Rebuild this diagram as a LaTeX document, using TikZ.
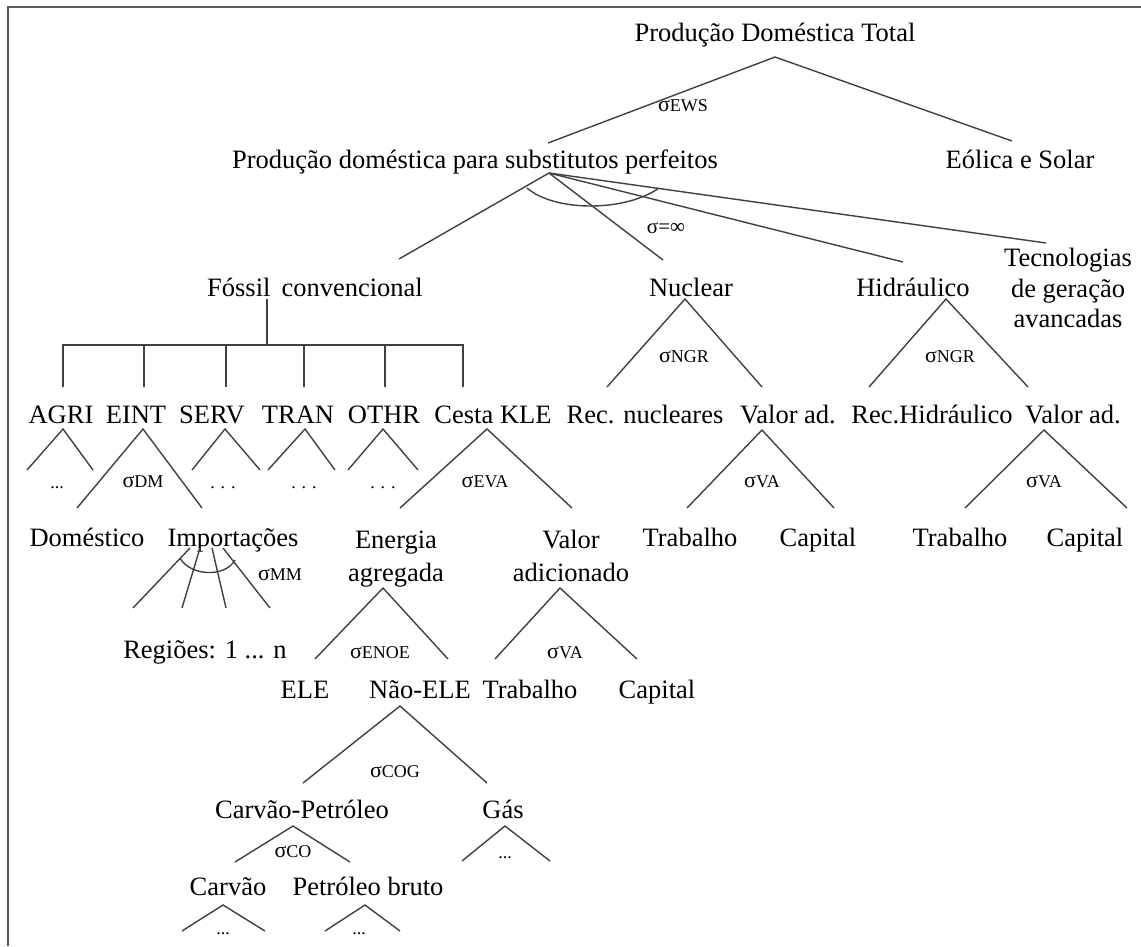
\documentclass[tikz,border=0pt]{standalone}
\usepackage{fontspec}
\setmainfont{Liberation Serif}

% elasticity label: sigma followed by the nest code in smaller capitals
\newcommand\elas[1]{{\fontsize{22}{22}\selectfont σ}{\fontsize{18}{18}\selectfont #1}}

% apex and two leg ends of a nesting fork, with the two legs drawn
\newcommand\nestfork[4]{%
  \coordinate (#1-s) at (#2);
  \coordinate (#1-l) at (#3);
  \coordinate (#1-r) at (#4);
  \draw[link] (#1-l) -- (#1-s) -- (#1-r);}

\begin{document}
\begin{tikzpicture}[x=1pt,y=-1pt,
  base/.style={font=\fontsize{26.5}{33}\selectfont, inner sep=0pt, align=center},
  txt/.style={base, text height=23pt, text depth=6pt},
  multi/.style={base},
  lbl/.style={inner sep=0pt},
  more/.style={font=\fontsize{18}{18}\selectfont, inner sep=0pt, anchor=base},
  link/.style={draw=black!75, line width=1.4pt},
  frame/.style={draw=black!65, line width=2.6pt}]

\useasboundingbox (0,0) rectangle (1141,946);
\draw[frame] (8,946) -- (8,7) -- (1141,7);

% ---------- top level ----------
\node[txt] (tot) at (775,33) {Produção Doméstica Total};
\node[txt] (perf) at (475,160) {Produção doméstica para substitutos perfeitos};
\node[txt] (eol) at (1020,160) {Eólica e Solar};
\nestfork{tot}{775,57}{548,143}{1012,141}
\node[lbl] (s-ews) at (683,106) {\elas{EWS}};

% ---------- perfect substitutes ----------
\node[txt] (fos) at (315,288) {Fóssil\, convencional};
\node[txt] (nuc) at (691,288) {Nuclear};
\node[txt] (hid) at (913,288) {Hidráulico};
\node[multi, font=\fontsize{26.5}{30.5}\selectfont] (tec) at (1068,288) {Tecnologias\\de geração\\avancadas};
\coordinate (perf-s) at (549,173);
\coordinate (fos-n) at (399,259);
\coordinate (nuc-n) at (663,260);
\coordinate (hid-n) at (903,262);
\coordinate (tec-n) at (1046,243);
\draw[link] (perf-s) -- (fos-n);
\draw[link] (perf-s) -- (nuc-n);
\draw[link] (perf-s) -- (hid-n);
\draw[link] (perf-s) -- (tec-n);
\draw[link] (527,188) .. controls (555,212) and (625,212) .. (659,188);
\node[lbl] (s-inf) at (666,228) {\fontsize{21}{21}\selectfont σ=∞};

% ---------- conventional fossil sectors ----------
\node[txt] (agri) at (61,415) {AGRI};
\node[txt] (eint) at (136,415) {EINT};
\node[txt] (serv) at (212,415) {SERV};
\node[txt] (tran) at (298,415) {TRAN};
\node[txt] (othr) at (384,415) {OTHR};
\node[txt] (kle) at (493,415) {Cesta KLE};
\coordinate (fos-s) at (267,299);
\coordinate (bar) at (267,345);
\coordinate (agri-n) at (63,387);
\coordinate (eint-n) at (144,387);
\coordinate (serv-n) at (226,387);
\coordinate (tran-n) at (304,387);
\coordinate (othr-n) at (385,387);
\coordinate (kle-n) at (463,387);
\draw[link] (fos-s) -- (bar);
\draw[link] (agri-n) |- (bar) -| (kle-n);
\foreach \c in {eint,serv,tran,othr} \draw[link] (\c-n) -- (\c-n |- bar);

\nestfork{agri}{63,429}{27,470}{93,470}
\nestfork{serv}{225,429}{192,470}{260,470}
\nestfork{tran}{305,429}{268,470}{335,470}
\nestfork{othr}{383,429}{348,470}{418,470}
\node[more] (agri-m) at (57,488) {...};
\node[more] (serv-m) at (223,488) {. . .};
\node[more] (tran-m) at (304,488) {. . .};
\node[more] (othr-m) at (383,488) {. . .};

% EINT: domestic versus imports
\nestfork{eint}{143,429}{77,508}{202,508}
\node[lbl] (s-dm) at (143,482) {\elas{DM}};
\node[txt] (dom) at (87,538) {Doméstico};
\node[txt] (imp) at (233,538) {Importações};
\coordinate (imp-a) at (190,548);
\coordinate (imp-b) at (200,548);
\coordinate (imp-c) at (212,548);
\coordinate (imp-d) at (223,548);
\coordinate (reg-a) at (133,608);
\coordinate (reg-b) at (182,608);
\coordinate (reg-c) at (226,608);
\coordinate (reg-d) at (270,608);
\draw[link] (imp-a) -- (reg-a);
\draw[link] (imp-b) -- (reg-b);
\draw[link] (imp-c) -- (reg-c);
\draw[link] (imp-d) -- (reg-d);
\draw[link] (180,558) .. controls (190,576) and (225,578) .. (235,560);
\node[lbl] (s-mm) at (280,575) {\elas{MM}};
\node[txt] (reg) at (205,650) {Regiões: 1 ... n};

% KLE bundle
\nestfork{kle}{487,429}{400,508}{572,508}
\node[lbl] (s-eva) at (485,482) {\elas{EVA}};
\node[multi] (ene) at (396,559) {Energia\\agregada};
\node[multi] (va) at (571,556) {Valor\\adicionado};

\nestfork{ene}{383,588}{315,659}{448,659}
\node[lbl] (s-enoe) at (380,653) {\elas{ENOE}};
\nestfork{va}{560,588}{495,659}{637,659}
\node[lbl] (s-va1) at (565,653) {\elas{VA}};
\node[txt] (ele) at (305,690) {ELE};
\node[txt] (nele) at (420,690) {Não-ELE};
\node[txt] (trab1) at (530,690) {Trabalho};
\node[txt] (cap1) at (657,690) {Capital};

\nestfork{nele}{400,706}{303,783}{487,783}
\node[lbl] (s-cog) at (395,772) {\elas{COG}};
\node[txt] (cp) at (302,810) {Carvão-Petróleo};
\node[txt] (gas) at (503,810) {Gás};

\nestfork{cp}{293,826}{235,862}{350,862}
\node[lbl] (s-co) at (293,852) {\elas{CO}};
\nestfork{gas}{505,826}{462,861}{550,861}
\node[more] (gas-m) at (505,858) {...};
\node[txt] (carv) at (228,887) {Carvão};
\node[txt] (pet) at (368,887) {Petróleo bruto};

\nestfork{carv}{223,905}{182,931}{265,931}
\node[more] (carv-m) at (223,934) {...};
\nestfork{pet}{365,905}{325,931}{400,931}
\node[more] (pet-m) at (359,934) {...};

% ---------- nuclear and hydro ----------
\nestfork{nuc}{685,299}{607,387}{762,387}
\node[lbl] (s-ngr1) at (684,357) {\elas{NGR}};
\nestfork{hid}{946,299}{869,387}{1028,387}
\node[lbl] (s-ngr2) at (950,357) {\elas{NGR}};
\node[txt] (recn) at (645,415) {Rec. nucleares};
\node[txt] (van) at (788,415) {Valor ad.};
\node[txt] (rech) at (932,415) {Rec.Hidráulico};
\node[txt] (vah) at (1073,415) {Valor ad.};

\nestfork{van}{762,430}{687,508}{834,508}
\node[lbl] (s-va2) at (762,482) {\elas{VA}};
\nestfork{vah}{1044,430}{965,508}{1127,508}
\node[lbl] (s-va3) at (1044,482) {\elas{VA}};
\node[txt] (trab2) at (690,538) {Trabalho};
\node[txt] (cap2) at (818,538) {Capital};
\node[txt] (trab3) at (960,538) {Trabalho};
\node[txt] (cap3) at (1085,538) {Capital};

\end{tikzpicture}
\end{document}
